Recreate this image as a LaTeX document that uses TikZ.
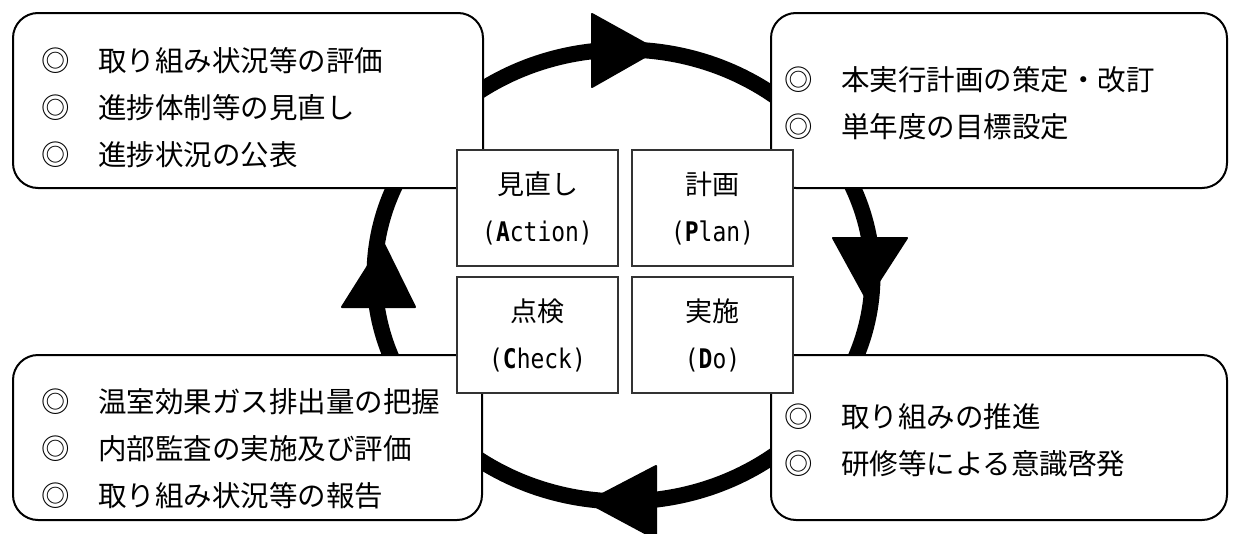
\documentclass[tikz,border=0pt]{standalone}
\usepackage{fontspec}
\newfontfamily\jp{Noto Sans CJK JP}
\newfontfamily\monofnt[FakeStretch=0.85]{DejaVu Sans Mono}
\begin{document}
\begin{tikzpicture}[x=1pt,y=-1pt,
  ring/.style={line width=16pt},
  headfill/.style={fill=black,draw=black,line width=2pt,line join=round},
  cornerbox/.style={draw=black,line width=2pt,rounded corners=25pt,fill=white,inner sep=0pt},
  cbox/.style={draw=black!80,line width=1.5pt,fill=white,inner sep=0pt,minimum width=161pt,minimum height=116pt,align=center,font=\fontsize{27}{47}\selectfont},
  itemtext/.style={anchor=west,align=left,inner sep=0pt,font=\jp\fontsize{28.5}{47}\selectfont}]
\useasboundingbox (0,0) rectangle (1239,533);
% cycle ring
\draw[ring] (623.5,275.5) ellipse [x radius=249pt, y radius=226pt];
% arrowheads
\fill[headfill] (592,14) -- (657,50) -- (592,87) -- cycle;
\fill[headfill] (833,238) -- (867,300) -- (907,238) -- cycle;
\fill[headfill] (656,466) -- (587,502) -- (656,539) -- cycle;
\fill[headfill] (342,307) -- (383,242) -- (415,307) -- cycle;
% corner boxes
\node[cornerbox,minimum width=470pt,minimum height=175pt] (tlbox) at (248,100.5) {};
\node[cornerbox,minimum width=456pt,minimum height=175pt] (trbox) at (999,100.5) {};
\node[cornerbox,minimum width=469pt,minimum height=165pt] (blbox) at (247.5,437.5) {};
\node[cornerbox,minimum width=456pt,minimum height=165pt] (brbox) at (999,437.5) {};
% item texts
\node[itemtext] (tltext) at (41,108) {◎　取り組み状況等の評価\\◎　進捗体制等の見直し\\◎　進捗状況の公表};
\node[itemtext] (trtext) at (784,103) {◎　本実行計画の策定・改訂\\◎　単年度の目標設定};
\node[itemtext] (bltext) at (41,449) {◎　温室効果ガス排出量の把握\\◎　内部監査の実施及び評価\\◎　取り組み状況等の報告};
\node[itemtext] (brtext) at (784,440) {◎　取り組みの推進\\◎　研修等による意識啓発};
% central PDCA boxes
\node[cbox] (act) at (537.5,208) {{\jp 見直し}\\{\monofnt(\textbf{A}ction)}};
\node[cbox] (plan) at (712.5,208) {{\jp 計画}\\{\monofnt(\textbf{P}lan)}};
\node[cbox] (chk) at (537.5,335) {{\jp 点検}\\{\monofnt(\textbf{C}heck)}};
\node[cbox] (do) at (712.5,335) {{\jp 実施}\\{\monofnt(\textbf{D}o)}};
\end{tikzpicture}
\end{document}
